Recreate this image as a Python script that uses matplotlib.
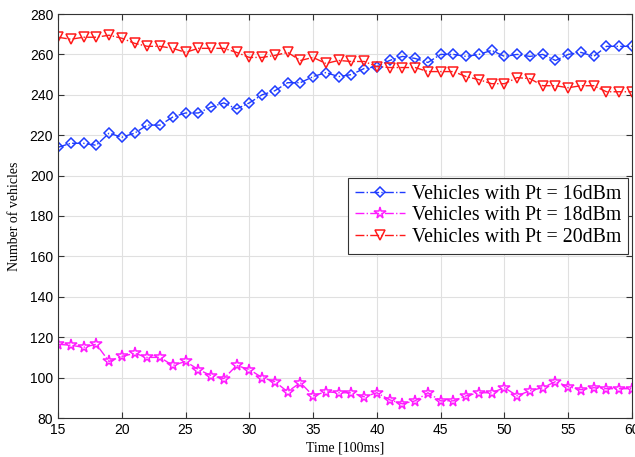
import numpy as np
import matplotlib
matplotlib.use('Agg')
import matplotlib.pyplot as plt

# time axis [100ms]
t = np.arange(15, 61)

pt16 = [214, 216, 216, 215, 221, 219, 221, 225, 225, 229, 231, 231, 234, 236, 233,
        236, 240, 242, 246, 246, 249, 251, 249, 250, 253, 254, 257, 259, 258, 256,
        260, 260, 259, 260, 262, 259, 260, 259, 260, 257, 260, 261, 259, 264, 264, 264]
pt18 = [116.5, 116, 115, 116.5, 108, 110.5, 112, 110, 110, 106, 108, 104, 101, 99.5, 106,
        104, 100, 98, 93, 97.5, 91, 93, 92.5, 92.5, 90.5, 92.5, 89, 87, 88.5, 92.5,
        88.5, 88.5, 91, 92.5, 92.5, 95, 91, 93.5, 95, 98, 95.5, 94, 95, 94.5, 94.5, 94.5]
pt20 = [268.5, 267.5, 268.5, 268.5, 269.5, 268, 265.5, 264, 264, 263, 261, 263, 263, 263, 261,
        258.5, 258.5, 259.5, 261, 257, 258.5, 255.5, 257, 256.5, 256.5, 254, 253.5, 253.5, 253.5, 251.5,
        251.5, 251.5, 249, 247.5, 245.5, 245.5, 248.5, 248, 244.5, 244.5, 243.5, 244.5, 244.5, 241.5, 241.5, 241.5]

serif = ['Liberation Serif', 'DejaVu Serif']
sans = ['Liberation Sans', 'DejaVu Sans']

fig = plt.figure(figsize=(6.35, 4.57), dpi=100)
ax = fig.add_axes([58 / 635, 1 - 418 / 457, 574 / 635, 404 / 457])

ax.plot(t, pt16, linestyle='-.', color='#1f3cff', marker='D', markersize=5.5,
        markerfacecolor='none', markeredgewidth=1.1, linewidth=1.0,
        label='Vehicles with Pt = 16dBm')
ax.plot(t, pt18, linestyle='-.', color='#ff1aff', marker='*', markersize=8.5,
        markerfacecolor='none', markeredgewidth=1.1, linewidth=1.0,
        label='Vehicles with Pt = 18dBm')
ax.plot(t, pt20, linestyle='-.', color='#ff1a1a', marker='v', markersize=7,
        markerfacecolor='none', markeredgewidth=1.1, linewidth=1.0,
        label='Vehicles with Pt = 20dBm')

ax.set_xlim(15, 60)
ax.set_ylim(80, 280)
ax.set_xticks(range(15, 61, 5))
ax.set_yticks(range(80, 281, 20))
ax.grid(True, color='#e0e0e0', linewidth=0.8)
ax.set_axisbelow(True)
ax.tick_params(direction='in', top=True, right=True, length=4, color='#333333',
               labelsize=10)
for lbl in ax.get_xticklabels() + ax.get_yticklabels():
    lbl.set_family(sans)
for s in ax.spines.values():
    s.set_color('#333333')
    s.set_linewidth(0.8)

ax.set_xlabel('Time [100ms]', family=serif, fontsize=10, labelpad=3)
ax.set_ylabel('Number of vehicles', family=serif, fontsize=10, labelpad=6)

leg = ax.legend(loc='upper right', bbox_to_anchor=(0.993, 0.594),
                prop={'family': serif, 'size': 14.3}, fancybox=False,
                framealpha=1, edgecolor='#333333', borderpad=0.35,
                labelspacing=0.12, handlelength=2.5, handletextpad=0.35,
                borderaxespad=0)
leg.get_frame().set_linewidth(0.8)

fig.savefig('out.png', dpi=100)
